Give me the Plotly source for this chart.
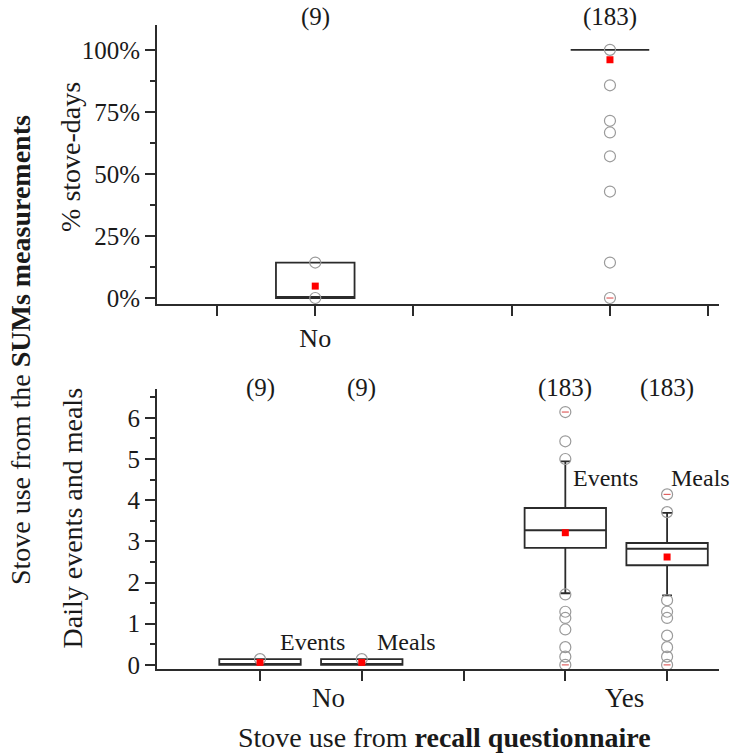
import plotly.graph_objects as go

# ---------------- data ----------------
# Top panel: % stove-days (x positions on a 1..6 scale)
top_pos = [2, 5]                 # No, Yes
top_q1 = [0, 100]
top_median = [0, 100]
top_q3 = [14.3, 100]
top_lf = [0, 100]
top_uf = [14.3, 100]
top_mean = [4.8, 96]
top_no_points = [14.3, 0]
top_yes_points = [100, 85.7, 71.4, 66.7, 57.1, 42.9, 14.3, 0]
top_n = ["(9)", "(183)"]
top_tickvals = [1, 2, 3, 4, 5, 6]
top_ticklabels = ["", "No", "", "", "", ""]
top_yvals = [0, 25, 50, 75, 100]
top_ylabels = ["0%", "25%", "50%", "75%", "100%"]

# Bottom panel: daily events and meals (x positions on a 1..5 scale)
bot_pos = [1, 2, 4, 5]           # Events No, Meals No, Events Yes, Meals Yes
bot_names = ["Events", "Meals", "Events", "Meals"]
bot_q1 = [0, 0, 2.84, 2.42]
bot_median = [0, 0, 3.27, 2.82]
bot_q3 = [0.14, 0.14, 3.81, 2.96]
bot_lf = [0, 0, 1.74, 1.69]
bot_uf = [0.14, 0.14, 4.94, 3.69]
bot_mean = [0.06, 0.06, 3.21, 2.62]
bot_points = [
    [0.14],
    [0.14],
    [6.14, 5.43, 5.0, 1.71, 1.29, 1.14, 0.86, 0.43, 0.2, 0],
    [4.14, 3.71, 1.57, 1.29, 1.14, 0.71, 0.43, 0.2, 0],
]
bot_n = ["(9)", "(9)", "(183)", "(183)"]
bot_tickvals = [1, 2, 3, 4, 5]
bot_groups = ["No", "Yes"]
bot_group_pos = [1.67, 4.58]
bot_yvals = [0, 1, 2, 3, 4, 5, 6]

# min / max markers (red dash inside the circle)
minmax_top_x = [5]
minmax_top_y = [0]
minmax_bot_x = [4, 4, 5, 5]
minmax_bot_y = [6.14, 0, 4.14, 0]

# ---------------- figure ----------------
FONT = "Liberation Serif"
TXT = "#1a1a1a"
BOXLINE = "#2b2b2b"
CIRCLE = "#9a9a9a"

fig = go.Figure()

# top boxes
for i, p in enumerate(top_pos):
    fig.add_trace(go.Box(
        x=[p], q1=[top_q1[i]], median=[top_median[i]], q3=[top_q3[i]],
        lowerfence=[top_lf[i]], upperfence=[top_uf[i]],
        width=0.8, whiskerwidth=0.12, boxpoints=False,
        fillcolor="rgba(255,255,255,0)", line=dict(color=BOXLINE, width=1.8),
        xaxis="x", yaxis="y", showlegend=False, hoverinfo="skip"))

# top outlier circles
fig.add_trace(go.Scatter(
    x=[top_pos[0]] * len(top_no_points) + [top_pos[1]] * len(top_yes_points),
    y=top_no_points + top_yes_points, mode="markers",
    marker=dict(symbol="circle-open", size=11, color=CIRCLE, line=dict(width=1.2)),
    xaxis="x", yaxis="y", showlegend=False, cliponaxis=False))
fig.add_trace(go.Scatter(
    x=minmax_top_x, y=minmax_top_y, mode="markers",
    marker=dict(symbol="line-ew", size=5, line=dict(color="#e06060", width=1.2)),
    xaxis="x", yaxis="y", showlegend=False, cliponaxis=False))
fig.add_trace(go.Scatter(
    x=top_pos, y=top_mean, mode="markers",
    marker=dict(symbol="square", size=7, color="#ff0000"),
    xaxis="x", yaxis="y", showlegend=False, cliponaxis=False))

# bottom boxes
for i, p in enumerate(bot_pos):
    fig.add_trace(go.Box(
        x=[p], q1=[bot_q1[i]], median=[bot_median[i]], q3=[bot_q3[i]],
        lowerfence=[bot_lf[i]], upperfence=[bot_uf[i]],
        width=0.8, whiskerwidth=0.12, boxpoints=False,
        fillcolor="rgba(255,255,255,0)", line=dict(color=BOXLINE, width=1.8),
        xaxis="x2", yaxis="y2", showlegend=False, hoverinfo="skip"))

px_, py_ = [], []
for i, p in enumerate(bot_pos):
    px_ += [p] * len(bot_points[i])
    py_ += bot_points[i]
fig.add_trace(go.Scatter(
    x=px_, y=py_, mode="markers",
    marker=dict(symbol="circle-open", size=11, color=CIRCLE, line=dict(width=1.2)),
    xaxis="x2", yaxis="y2", showlegend=False, cliponaxis=False))
fig.add_trace(go.Scatter(
    x=minmax_bot_x, y=minmax_bot_y, mode="markers",
    marker=dict(symbol="line-ew", size=5, line=dict(color="#e06060", width=1.2)),
    xaxis="x2", yaxis="y2", showlegend=False, cliponaxis=False))
fig.add_trace(go.Scatter(
    x=bot_pos, y=bot_mean, mode="markers",
    marker=dict(symbol="square", size=7, color="#ff0000"),
    xaxis="x2", yaxis="y2", showlegend=False, cliponaxis=False))

axis_common = dict(showline=True, linecolor=BOXLINE, linewidth=1.8,
                   ticks="outside", ticklen=10, tickwidth=1.8, tickcolor=BOXLINE,
                   showgrid=False, zeroline=False)
tick_font = dict(family=FONT, size=25, color=TXT)

annotations = []
# n labels
for i, p in enumerate(top_pos):
    annotations.append(dict(x=p, y=1.03, xref="x", yref="y domain", text=top_n[i],
                            showarrow=False, xanchor="center", yanchor="middle",
                            font=dict(family=FONT, size=25, color=TXT)))
for i, p in enumerate(bot_pos):
    annotations.append(dict(x=p, y=1.005, xref="x2", yref="y2 domain", text=bot_n[i],
                            showarrow=False, xanchor="center", yanchor="middle",
                            font=dict(family=FONT, size=25, color=TXT)))
# Events / Meals labels
label_x = [1.52, 2.44, 4.39, 5.33]
label_y = [0.56, 0.56, 4.55, 4.55]
for i in range(len(bot_pos)):
    annotations.append(dict(x=label_x[i], y=label_y[i], xref="x2", yref="y2",
                            text=bot_names[i], showarrow=False,
                            xanchor="center", yanchor="middle",
                            font=dict(family=FONT, size=24, color=TXT)))
# group labels (bottom)
for g, gx in zip(bot_groups, bot_group_pos):
    annotations.append(dict(x=gx, y=-0.105, xref="x2", yref="y2 domain", text=g,
                            showarrow=False, xanchor="center", yanchor="middle",
                            font=dict(family=FONT, size=27, color=TXT)))
# axis titles
annotations += [
    dict(x=0.511, y=-0.107, xref="paper", yref="paper",
         text="Stove use from <b>recall questionnaire</b>", showarrow=False,
         xanchor="center", yanchor="middle", font=dict(family=FONT, size=28, color=TXT)),
    dict(x=-0.155, y=0.795, xref="paper", yref="paper", text="% stove-days",
         textangle=-90, showarrow=False, xanchor="center", yanchor="middle",
         font=dict(family=FONT, size=28, color=TXT)),
    dict(x=-0.151, y=0.234, xref="paper", yref="paper", text="Daily events and meals",
         textangle=-90, showarrow=False, xanchor="center", yanchor="middle",
         font=dict(family=FONT, size=28, color=TXT)),
    dict(x=-0.244, y=0.495, xref="paper", yref="paper",
         text="Stove use from the <b>SUMs measurements</b>",
         textangle=-90, showarrow=False, xanchor="center", yanchor="middle",
         font=dict(family=FONT, size=28, color=TXT)),
]

fig.update_layout(
    width=734, height=755,
    margin=dict(l=157, r=15, t=25, b=86),
    paper_bgcolor="white", plot_bgcolor="white",
    showlegend=False,
    xaxis=dict(domain=[0, 1], anchor="y", range=[0.389, 6.11],
               tickmode="array", tickvals=top_tickvals, ticktext=top_ticklabels,
               tickfont=dict(family=FONT, size=26, color=TXT), **axis_common),
    yaxis=dict(domain=[0.5668, 1], anchor="x", range=[-2.4, 110],
               tickmode="array", tickvals=top_yvals, ticktext=top_ylabels,
               tickfont=tick_font,
               minor=dict(ticks="outside", ticklen=5, tickwidth=1.8, tickcolor=BOXLINE,
                          tick0=0, dtick=12.5, showgrid=False),
               **axis_common),
    xaxis2=dict(domain=[0, 1], anchor="y2", range=[-0.012, 5.51],
                tickmode="array", tickvals=bot_tickvals,
                ticktext=[""] * len(bot_tickvals), tickfont=tick_font, **axis_common),
    yaxis2=dict(domain=[0, 0.4348], anchor="x2", range=[-0.1, 6.7],
                tickmode="array", tickvals=bot_yvals,
                ticktext=[str(v) for v in bot_yvals], tickfont=tick_font,
                minor=dict(ticks="outside", ticklen=5, tickwidth=1.8, tickcolor=BOXLINE,
                           tick0=0, dtick=0.5, showgrid=False),
                **axis_common),
    annotations=annotations,
)

# remove the page's default body margin so the figure fills the window exactly
fig.write_html("out.html",
               config={"displayModeBar": False},
               post_script="document.body.style.margin='0';document.body.style.overflow='hidden';")
